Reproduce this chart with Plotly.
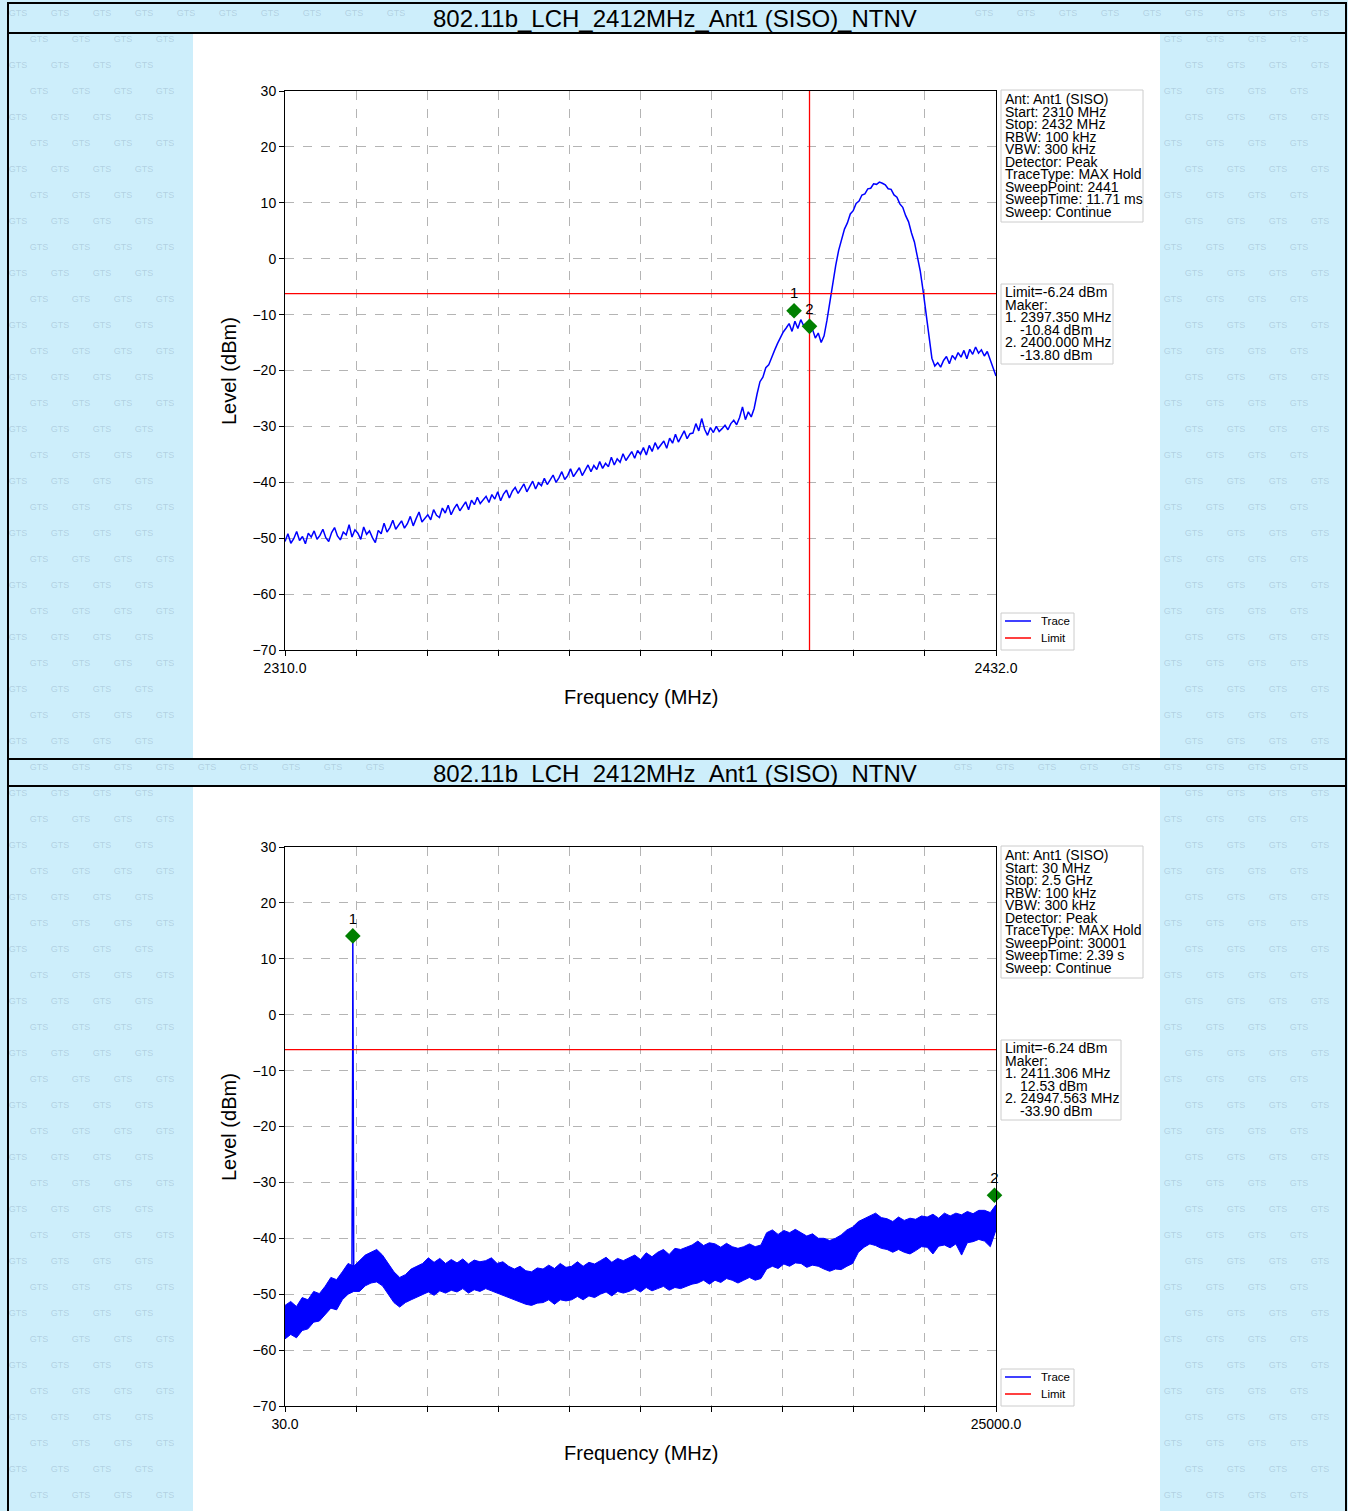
import numpy as np
import plotly.graph_objects as go

W, H = 1348, 1511
FONT = "Liberation Sans, Arial, sans-serif"

title_text = "802.11b_LCH_2412MHz_Ant1 (SISO)_NTNV"
limit_dbm = -6.24

# ---- top chart: 2310 - 2432 MHz, trace every 0.5 MHz
top_start, top_stop = 2310.0, 2432.0
top_level = [
    -50.6, -49.2, -50.9, -50.1, -48.8, -50.4, -49.7, -51.0, -49.1, -49.8,
    -48.7, -50.2, -49.5, -48.4, -49.9, -50.6, -49.0, -48.1, -49.6, -50.3,
    -48.9, -49.4, -47.6, -49.8, -48.5, -49.1, -50.2, -48.0, -49.3, -48.7,
    -49.9, -50.8, -48.6, -49.2, -47.3, -48.9, -48.1, -46.8, -48.4, -47.7,
    -46.9, -48.2, -47.4, -46.1, -47.8, -46.5, -45.3, -47.1, -46.4, -45.8,
    -46.7, -44.9, -45.9, -46.3, -44.6, -45.5, -44.1, -45.8, -44.7, -43.9,
    -45.1, -44.4, -43.5, -44.9, -43.2, -44.0, -42.7, -43.8, -43.1, -42.5,
    -43.6, -42.2, -43.0, -41.7, -43.3, -42.1, -41.4, -42.8, -41.6, -40.9,
    -42.0, -41.1, -40.3, -41.7, -40.8, -39.8, -41.2, -40.1, -40.6, -39.3,
    -40.4, -39.6, -38.7, -40.0, -39.2, -38.1, -39.5, -38.8, -37.6, -39.0,
    -38.3, -37.4, -38.8, -37.9, -36.9, -38.1, -37.0, -37.7, -36.3, -37.5,
    -36.6, -37.2, -35.5, -36.9, -35.8, -36.4, -34.9, -36.1, -35.2, -34.5,
    -35.7, -34.3, -35.0, -33.8, -35.1, -33.4, -34.5, -32.9, -34.0, -33.3,
    -32.6, -33.9, -32.1, -33.0, -31.4, -32.8, -31.9, -30.8, -32.2, -31.3,
    -31.2, -29.5, -30.8, -28.6, -30.5, -31.6, -30.2, -31.1, -30.0, -30.9,
    -30.4, -29.8, -30.6, -29.5, -28.9, -29.7, -28.4, -26.5, -28.8, -27.4,
    -28.3, -26.8, -24.2, -22.0, -21.2, -19.5, -19.0, -17.6, -16.4, -15.2,
    -14.0, -13.1, -12.4, -11.6, -13.0, -11.2, -12.5, -10.9, -12.0, -11.5,
    -13.1, -12.6, -14.2, -13.3, -15.0, -13.8, -11.0, -7.5, -3.8, -1.2,
    1.5, 3.4, 5.3, 6.4, 8.0, 8.6, 9.9, 10.3, 11.4, 11.6,
    12.5, 12.6, 13.4, 13.3, 13.7, 13.5, 13.2, 12.5, 12.4, 11.4,
    11.0, 9.8, 9.2, 7.7, 6.6, 4.6, 3.0, 0.4, -2.2, -5.8,
    -9.8, -14.5, -17.8, -19.2, -18.6, -19.4, -18.2, -17.5, -18.8, -17.3,
    -18.0, -16.8, -17.6, -16.4, -17.9, -16.2, -17.1, -15.8, -16.9, -16.3,
    -17.4, -16.6, -18.2, -19.5, -21.0,
]
top_freq = np.linspace(top_start, top_stop, len(top_level))
top_vline = 2400.0
top_marker_freq = [2397.35, 2400.0]
top_marker_plot = [-9.3, -12.1]
top_marker_lbl = ["1", "2"]
top_info = ["Ant: Ant1 (SISO)", "Start: 2310 MHz", "Stop: 2432 MHz", "RBW: 100 kHz",
            "VBW: 300 kHz", "Detector: Peak", "TraceType: MAX Hold", "SweepPoint: 2441",
            "SweepTime: 11.71 ms", "Sweep: Continue"]
top_mark_text = ["Limit=-6.24 dBm", "Maker:", "1. 2397.350 MHz", "    -10.84 dBm",
                 "2. 2400.000 MHz", "    -13.80 dBm"]

# ---- bottom chart: 30 - 25000 MHz, upper / lower edge of the max-hold band
bot_start, bot_stop = 30.0, 25000.0
bot_upper = [
    -52.0, -51.3, -52.2, -50.6, -51.0, -49.5, -49.9, -48.6, -47.0, -47.4,
    -46.0, -44.5, -45.0, -44.0, -43.0, -42.5, -42.0, -43.0, -44.5, -46.0,
    -47.0, -46.5, -45.5, -45.0, -44.5, -43.5, -44.3, -43.6, -44.5, -43.8,
    -44.4, -43.7, -44.6, -43.9, -44.2, -44.0, -43.5, -44.5, -44.2, -45.0,
    -45.5, -45.0, -45.8, -46.0, -45.3, -45.5, -44.8, -45.4, -44.5, -45.2,
    -45.0, -44.2, -45.0, -44.3, -44.6, -44.0, -43.4, -44.3, -43.6, -44.0,
    -43.5, -43.0, -43.8, -42.6, -43.3, -42.5, -42.0, -42.9, -41.8, -42.0,
    -41.6, -41.2, -40.5, -41.3, -40.8, -41.0, -41.6, -40.9, -41.5, -41.8,
    -41.5, -41.0, -41.5, -41.2, -39.0, -38.5, -39.3, -38.6, -39.0, -38.4,
    -39.0, -39.6, -39.2, -40.0, -40.0, -40.4, -40.0, -39.4, -38.5, -38.0,
    -37.0, -36.5, -36.0, -35.5, -36.3, -36.5, -37.0, -36.2, -36.8, -36.4,
    -36.6, -36.0, -36.2, -35.7, -36.4, -35.5, -36.0, -35.5, -35.8, -35.2,
    -35.6, -35.0, -35.0, -35.4, -34.0,
]
bot_lower = [
    -58.0, -57.2, -57.8, -56.5, -56.2, -55.0, -54.8, -53.6, -52.5, -52.8,
    -51.0, -50.0, -49.5, -49.5, -48.5, -48.0, -47.8, -48.5, -50.0, -51.5,
    -52.3, -51.5, -51.0, -50.5, -50.0, -49.6, -50.2, -49.4, -49.8, -49.3,
    -49.6, -49.0, -49.8, -49.2, -49.5, -49.0, -49.4, -49.8, -50.2, -50.6,
    -51.0, -51.4, -51.8, -52.0, -51.6, -51.5, -51.0, -51.8, -51.0, -51.2,
    -51.0, -50.4, -51.0, -50.3, -50.6, -50.0, -49.6, -50.3, -49.5, -49.8,
    -49.5, -49.0, -49.6, -48.8, -49.4, -49.0, -48.6, -49.3, -48.8, -49.0,
    -48.6, -48.2, -48.0, -47.5, -48.2, -47.5, -47.9, -47.2, -47.5, -48.0,
    -47.5, -47.0, -47.5, -47.2, -45.5, -45.0, -45.4, -44.6, -45.0, -44.4,
    -44.5, -45.2, -44.8, -45.0, -45.5, -45.9, -45.5, -45.6, -45.0, -44.5,
    -42.5, -41.6, -41.0, -41.3, -41.8, -42.0, -42.5, -42.0, -42.5, -42.8,
    -42.2, -41.5, -41.6, -42.8, -41.4, -41.2, -41.7, -41.0, -43.0, -40.8,
    -40.6, -40.2, -40.5, -41.5, -38.5,
]
bot_freq = np.linspace(bot_start, bot_stop, len(bot_upper))
spike_freq = [2380, 2398, 2405, 2409, 2411.3, 2414, 2418, 2428, 2445]
spike_level = [-48.0, -30.0, -20.0, -4.0, 13.5, -6.0, -26.0, -40.0, -47.0]
bot_marker_freq = [2411.306, 24947.563]
bot_marker_plot = [14.1, -32.3]
bot_marker_lbl = ["1", "2"]
bot_info = ["Ant: Ant1 (SISO)", "Start: 30 MHz", "Stop: 2.5 GHz", "RBW: 100 kHz",
            "VBW: 300 kHz", "Detector: Peak", "TraceType: MAX Hold", "SweepPoint: 30001",
            "SweepTime: 2.39 s", "Sweep: Continue"]
bot_mark_text = ["Limit=-6.24 dBm", "Maker:", "1. 2411.306 MHz", "    12.53 dBm",
                 "2. 24947.563 MHz", "    -33.90 dBm"]

y_ticks = [30, 20, 10, 0, -10, -20, -30, -40, -50, -60, -70]


def px(x):
    return x / W


def py(y):
    return 1 - y / H


BLUE = "#0000ff"
RED = "#ff0000"
GREEN = "#008000"

fig = go.Figure()
shapes = []
annotations = []


def note(x, y, text, size, xanchor="center", angle=0):
    annotations.append(dict(x=px(x), y=py(y), xref="paper", yref="paper", text=text,
                            showarrow=False, xanchor=xanchor, yanchor="middle", textangle=angle,
                            font=dict(size=size, color="black", family=FONT)))


# background watermark: a text trace on a hidden full-page pixel axis
wm_x, wm_y = [], []
for row, yy in enumerate(range(14, H - 6, 26)):
    off = (row % 2) * 21
    for xx in range(18 + off, W - 14, 42):
        if 182 < xx < 1170 and (30 < yy < 764 or yy > 784):
            continue
        if 400 < xx < 950 and (yy < 30 or 764 <= yy <= 784):
            continue  # keep the title text clear
        wm_x.append(xx)
        wm_y.append(yy)
fig.add_trace(go.Scatter(x=wm_x, y=wm_y, mode="text", text=["GTS"] * len(wm_x),
                         textfont=dict(size=9, color="rgba(110,140,165,0.30)", family=FONT),
                         xaxis="x3", yaxis="y3", showlegend=False, hoverinfo="skip"))


def add_panel(top, ax, x0, x1, xtv, xtt):
    # top = pixel y of the panel frame, ax = axis suffix
    dy = top - 3
    bar = 33 + dy - (3 if top > 3 else 0)
    shapes.append(dict(type="rect", xref="paper", yref="paper", x0=px(193), x1=px(1160),
                       y0=py(min(758 + dy, H)), y1=py(bar), fillcolor="white",
                       line=dict(width=0), layer="below"))
    shapes.append(dict(type="rect", xref="paper", yref="paper", x0=px(8), x1=px(1346),
                       y0=py(min(759 + dy, H + 2)), y1=py(3 + dy),
                       line=dict(color="black", width=2)))
    shapes.append(dict(type="line", xref="paper", yref="paper", x0=px(8), x1=px(1346),
                       y0=py(bar), y1=py(bar), line=dict(color="black", width=2)))
    note(675, (3 + dy + bar) / 2 + 1, title_text, 24)
    note(641, 697 + dy, "Frequency (MHz)", 20)
    note(229, 371 + dy, "Level (dBm)", 20, angle=-90)
    axis_style = dict(showline=True, linecolor="black", linewidth=1, mirror=True,
                      ticks="outside", ticklen=5, tickcolor="black", automargin=False,
                      showgrid=True, gridcolor="#b4b4b4", griddash="dash", gridwidth=1,
                      zeroline=False, tickfont=dict(size=14, color="black", family=FONT))
    fig.layout["xaxis" + ax] = dict(domain=[px(285), px(996)], range=[x0, x1],
                                    anchor="y" + ax, tickvals=xtv, ticktext=xtt, **axis_style)
    fig.layout["yaxis" + ax] = dict(domain=[py(650 + dy), py(91 + dy)], range=[-70, 30],
                                    anchor="x" + ax, tickvals=y_ticks,
                                    ticktext=[str(v).replace("-", "\u2212") for v in y_ticks],
                                    **axis_style)
    return dy


def add_boxes(dy, info, marks):
    shapes.append(dict(type="rect", xref="paper", yref="paper", x0=px(1001), x1=px(1143),
                       y0=py(222 + dy), y1=py(90 + dy), fillcolor="white",
                       line=dict(color="#cccccc", width=1)))
    for i, t in enumerate(info):
        note(1003, 99 + dy + i * 12.56, t, 14, xanchor="left")
    box_right = 1113 if len(marks[4]) < 16 else 1121
    shapes.append(dict(type="rect", xref="paper", yref="paper", x0=px(1001), x1=px(box_right),
                       y0=py(364 + dy), y1=py(284 + dy), fillcolor="white",
                       line=dict(color="#cccccc", width=1)))
    for i, t in enumerate(marks):
        indent = t.startswith(" ")
        note(1018 if indent else 1003, 292 + dy + i * 12.6, t.strip(), 14, xanchor="left")
    shapes.append(dict(type="rect", xref="paper", yref="paper", x0=px(1001), x1=px(1074),
                       y0=py(650 + dy), y1=py(613 + dy), fillcolor="white",
                       line=dict(color="#cccccc", width=1)))
    for i, (name, col) in enumerate([("Trace", BLUE), ("Limit", RED)]):
        yy = 621 + dy + i * 17
        shapes.append(dict(type="line", xref="paper", yref="paper", x0=px(1005), x1=px(1031),
                           y0=py(yy), y1=py(yy), line=dict(color=col, width=1.5)))
        note(1039, yy, name, 11.5, xanchor="left")


# ---- top panel
top_tv = list(np.linspace(top_start, top_stop, 11))
top_tt = ["2310.0"] + [""] * 9 + ["2432.0"]
dy1 = add_panel(3, "", top_start, top_stop, top_tv, top_tt)
add_boxes(dy1, top_info, top_mark_text)

fig.add_trace(go.Scatter(x=top_freq, y=top_level, mode="lines", line=dict(color=BLUE, width=1.5),
                         xaxis="x", yaxis="y", showlegend=False, hoverinfo="skip"))
fig.add_trace(go.Scatter(x=[top_start, top_stop], y=[limit_dbm, limit_dbm], mode="lines",
                         line=dict(color=RED, width=1.3), xaxis="x", yaxis="y", showlegend=False))
fig.add_trace(go.Scatter(x=[top_vline, top_vline], y=[-70, 30], mode="lines",
                         line=dict(color=RED, width=1.3), xaxis="x", yaxis="y", showlegend=False))
fig.add_trace(go.Scatter(x=top_marker_freq, y=top_marker_plot, mode="markers+text",
                         text=top_marker_lbl, textposition="top center",
                         textfont=dict(size=15, color="black", family=FONT),
                         marker=dict(symbol="diamond", size=12, color=GREEN),
                         xaxis="x", yaxis="y", showlegend=False, cliponaxis=False))

# ---- bottom panel
bot_tv = list(np.linspace(bot_start, bot_stop, 11))
bot_tt = ["30.0"] + [""] * 9 + ["25000.0"]
dy2 = add_panel(759, "2", bot_start, bot_stop, bot_tv, bot_tt)
add_boxes(dy2, bot_info, bot_mark_text)

fig.add_trace(go.Scatter(x=bot_freq, y=bot_upper, mode="lines", line=dict(color=BLUE, width=1),
                         xaxis="x2", yaxis="y2", showlegend=False, hoverinfo="skip"))
fig.add_trace(go.Scatter(x=bot_freq, y=bot_lower, mode="lines", line=dict(color=BLUE, width=1),
                         fill="tonexty", fillcolor=BLUE,
                         xaxis="x2", yaxis="y2", showlegend=False, hoverinfo="skip"))
fig.add_trace(go.Scatter(x=spike_freq, y=spike_level, mode="lines", line=dict(color=BLUE, width=1.5),
                         xaxis="x2", yaxis="y2", showlegend=False, hoverinfo="skip"))
fig.add_trace(go.Scatter(x=[bot_start, bot_stop], y=[limit_dbm, limit_dbm], mode="lines",
                         line=dict(color=RED, width=1.3), xaxis="x2", yaxis="y2", showlegend=False))
fig.add_trace(go.Scatter(x=bot_marker_freq, y=bot_marker_plot, mode="markers+text",
                         text=bot_marker_lbl, textposition="top center",
                         textfont=dict(size=15, color="black", family=FONT),
                         marker=dict(symbol="diamond", size=12, color=GREEN),
                         xaxis="x2", yaxis="y2", showlegend=False, cliponaxis=False))

fig.update_layout(
    width=W, height=H,
    autosize=False,
    margin=dict(l=0, r=0, t=0, b=0, pad=0),
    paper_bgcolor="#cdeefb",
    plot_bgcolor="rgba(0,0,0,0)",
    shapes=shapes,
    annotations=annotations,
    font=dict(family=FONT, color="black"),
    xaxis3=dict(domain=[0, 1], range=[0, W], visible=False, fixedrange=True,
                anchor="y3", automargin=False),
    yaxis3=dict(domain=[0, 1], range=[H, 0], visible=False, fixedrange=True,
                anchor="x3", automargin=False),
)

fig.write_html("out.html", config={"displayModeBar": False},
               post_script="document.body.style.margin='0';")
